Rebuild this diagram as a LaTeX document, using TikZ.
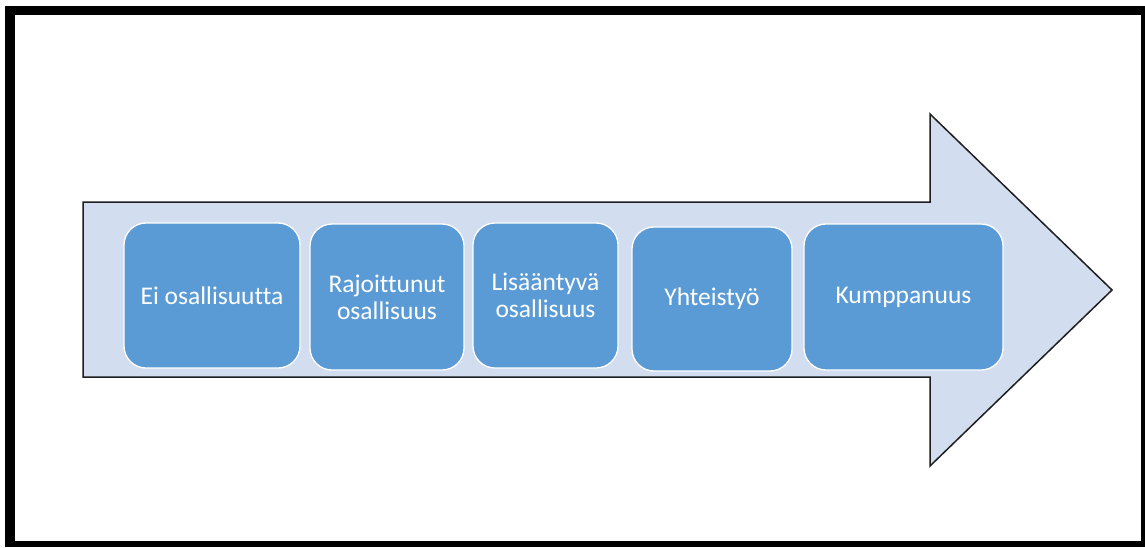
\documentclass[tikz,border=0pt]{standalone}
\usepackage{fontspec}
\setmainfont[Ligatures=NoCommon]{Carlito}
\definecolor{arrowfill}{RGB}{210,222,239}
\definecolor{boxfill}{RGB}{91,155,213}
\definecolor{arrowline}{RGB}{30,30,30}
\begin{document}
\begin{tikzpicture}[x=1pt,y=-1pt,
  stagebox/.style={draw=white,line width=1.3pt,fill=boxfill,rounded corners=22pt,
    text=white,font=\fontsize{25.5}{27}\selectfont,align=center,inner sep=0pt,
    rectangle,anchor=center},
  bigarrow/.style={draw=arrowline,line width=1.5pt,fill=arrowfill,line join=miter}]
\useasboundingbox (0,0) rectangle (1145,547);
% frame
\fill[black] (5,6) rectangle (1145,547);
\fill[white] (15,15) rectangle (1141,541);
% big arrow
\draw[bigarrow] (83,202) -- (930,202) -- (930,114) -- (1112,290) -- (930,466) -- (930,377) -- (83,377) -- cycle;
% stage boxes
\node[stagebox,minimum width=176pt,minimum height=145pt] (b1) at (212,295.5) {Ei osallisuutta};
\node[stagebox,minimum width=154pt,minimum height=146pt] (b2) at (387,297) {Rajoittunut\\osallisuus};
\node[stagebox,minimum width=145pt,minimum height=145pt] (b3) at (545.5,295.5) {Lisääntyvä\\osallisuus};
\node[stagebox,minimum width=160pt,minimum height=144pt] (b4) at (712,299) {Yhteistyö};
\node[stagebox,minimum width=199pt,minimum height=146pt] (b5) at (903.5,297) {Kumppanuus};
\end{tikzpicture}
\end{document}
